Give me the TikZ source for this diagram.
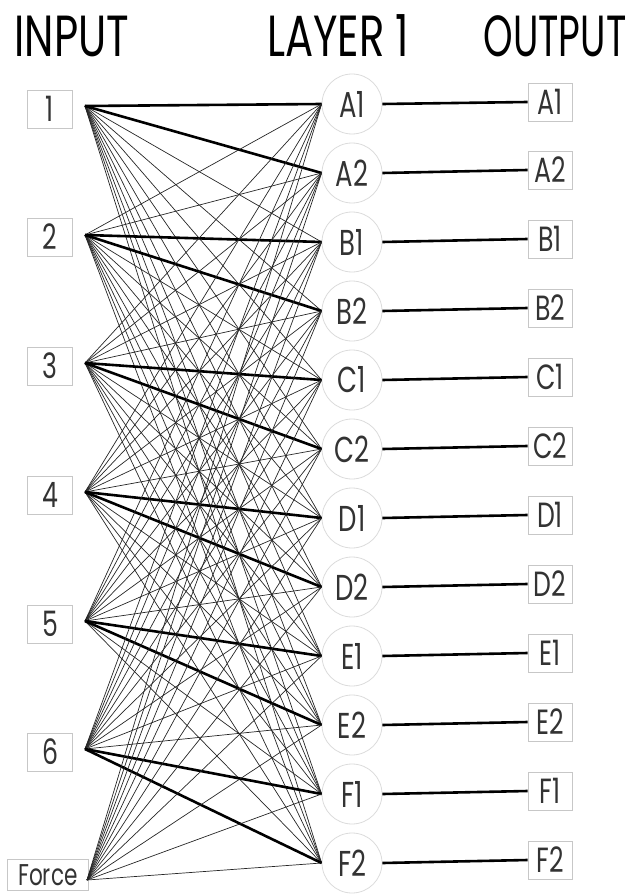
\documentclass[tikz,border=0pt]{standalone}
\usepackage{fontspec}
\setmainfont[FakeStretch=0.72]{Poppins}
\usetikzlibrary{positioning}
\tikzset{
  title/.style={font=\fontsize{58}{58}\selectfont,inner sep=0pt},
  inbox/.style={draw=black!22,line width=0.8pt,minimum width=45pt,minimum height=38pt,
    inner sep=0pt,font=\fontsize{35}{35}\selectfont,text=black!80},
  outbox/.style={inbox,minimum width=44pt},
  forcebox/.style={inbox,anchor=south west,minimum width=81pt,minimum height=31pt,
    align=left,inner xsep=4pt,inner ysep=1pt,font=\fontsize{30}{30}\selectfont},
  hidnode/.style={circle,draw=black!14,line width=0.8pt,minimum size=60pt,inner sep=0pt,
    font=\fontsize{36}{36}\selectfont,text=black!80},
  wire/.style={line width=0.7pt,draw=black!85},
  strong/.style={line width=2.6pt,draw=black}
}
\begin{document}
\begin{tikzpicture}[x=1pt,y=-1pt]
  \useasboundingbox (0,0) rectangle (626,896);
  % column titles
  \node[title] (tin) at (72,36) {INPUT};
  \node[title] (tlay) at (338,36) {LAYER 1};
  \node[title,xscale=0.9] (tout) at (555,36) {OUTPUT};
  % inputs
  \node[inbox] (n1) at (50,109) {1};
  \node[inbox] (n2) at (50,237) {2};
  \node[inbox] (n3) at (50,366) {3};
  \node[inbox] (n4) at (50,495) {4};
  \node[inbox] (n5) at (50,624) {5};
  \node[inbox] (n6) at (50,752) {6};
  \node[forcebox] (force) at (7,891) {Force};
  \coordinate (p1) at (85,106);
  \coordinate (p2) at (85,235);
  \coordinate (p3) at (85,363);
  \coordinate (p4) at (85,492);
  \coordinate (p5) at (85,621);
  \coordinate (p6) at (85,749);
  \coordinate (pF) at (87,880);
  % layer 1
  \node[hidnode] (A1) at (352,104) {A1};
  \node[hidnode] (A2) at (352,173) {A2};
  \node[hidnode] (B1) at (352,242) {B1};
  \node[hidnode] (B2) at (352,311) {B2};
  \node[hidnode] (C1) at (352,380) {C1};
  \node[hidnode] (C2) at (352,449) {C2};
  \node[hidnode] (D1) at (352,518) {D1};
  \node[hidnode] (D2) at (352,587) {D2};
  \node[hidnode] (E1) at (352,656) {E1};
  \node[hidnode] (E2) at (352,725) {E2};
  \node[hidnode] (F1) at (352,794) {F1};
  \node[hidnode] (F2) at (352,863) {F2};
  % outputs
  \node[outbox] (oA1) at (550,102) {A1};
  \node[outbox] (oA2) at (550,170) {A2};
  \node[outbox] (oB1) at (550,239) {B1};
  \node[outbox] (oB2) at (550,308) {B2};
  \node[outbox] (oC1) at (550,377) {C1};
  \node[outbox] (oC2) at (550,446) {C2};
  \node[outbox] (oD1) at (550,515) {D1};
  \node[outbox] (oD2) at (550,584) {D2};
  \node[outbox] (oE1) at (550,653) {E1};
  \node[outbox] (oE2) at (550,722) {E2};
  \node[outbox] (oF1) at (550,791) {F1};
  \node[outbox] (oF2) at (550,860) {F2};
  % input -> layer 1, every pair
  \foreach \p/\a/\b in {p1/A1/A2,p2/B1/B2,p3/C1/C2,p4/D1/D2,p5/E1/E2,p6/F1/F2}{
    \foreach \h in {A1,A2,B1,B2,C1,C2,D1,D2,E1,E2,F1,F2}
      \draw[wire] (\p) -- (\h.west);
    \draw[strong] (\p) -- (\a.west);
    \draw[strong] (\p) -- (\b.west);
  }
  \foreach \h in {A1,A2,B1,B2,C1,C2,D1,D2,E1,E2,F1,F2}
    \draw[wire] (pF) -- (\h.west);
  % layer 1 -> output
  \foreach \h in {A1,A2,B1,B2,C1,C2,D1,D2,E1,E2,F1,F2}
    \draw[strong] (\h.east) -- (o\h.west);
\end{tikzpicture}
\end{document}
